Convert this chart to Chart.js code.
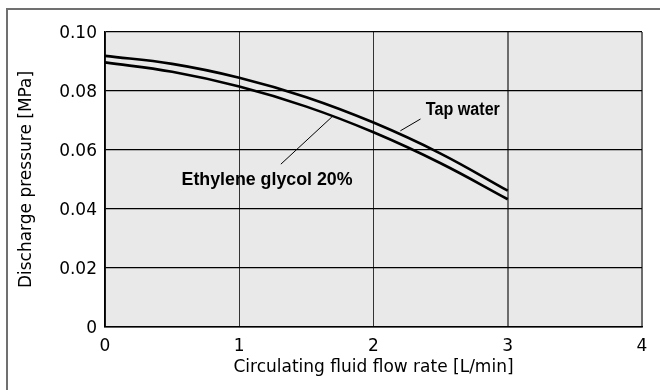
<!DOCTYPE html>
<html>
<head>
<meta charset="utf-8">
<script src="https://cdn.jsdelivr.net/npm/chart.js@4/dist/chart.umd.min.js"></script>
<style>
  html, body { margin: 0; padding: 0; background: #fff; }
  #wrap { width: 660px; height: 390px; }
</style>
</head>
<body>
<div id="wrap"><canvas id="pump"></canvas></div>
<script>
// flow rate [L/min] and discharge pressure [MPa]
const flowRates = [0, 0.5, 1, 1.5, 2, 2.5, 3];
const tapWater = [0.0919, 0.0892, 0.0845, 0.0779, 0.0693, 0.0588, 0.0462];
const glycol20 = [0.0897, 0.0865, 0.0815, 0.0747, 0.066, 0.0555, 0.0433];
const xTicks = [0, 1, 2, 3, 4];
const yTicks = [0, 0.02, 0.04, 0.06, 0.08, 0.10];

const toPoints = (ys) => flowRates.map((x, i) => ({ x, y: ys[i] }));

// grey plot fill + the partial outer frame
const framePlugin = {
  id: "frame",
  beforeDraw(chart) {
    const { ctx, chartArea: a } = chart;
    ctx.save();
    ctx.fillStyle = "#e8e9e8";
    ctx.fillRect(a.left, a.top, a.right - a.left, a.bottom - a.top);
    ctx.strokeStyle = "#707070";
    ctx.lineWidth = 2;
    ctx.beginPath();
    ctx.moveTo(7, 390);
    ctx.lineTo(7, 9);
    ctx.lineTo(660, 9);
    ctx.stroke();
    ctx.restore();
  },
};

// curve labels with their leader lines
const labelPlugin = {
  id: "curveLabels",
  afterDatasetsDraw(chart) {
    const { ctx, scales } = chart;
    const px = (x) => scales.x.getPixelForValue(x);
    const py = (y) => scales.y.getPixelForValue(y);
    ctx.save();
    ctx.strokeStyle = "#000";
    ctx.lineWidth = 1;
    ctx.beginPath();
    ctx.moveTo(px(2.35), py(0.0705));
    ctx.lineTo(px(2.2), py(0.0665));
    ctx.moveTo(px(1.31), py(0.0552));
    ctx.lineTo(px(1.69), py(0.0712));
    ctx.stroke();
    ctx.fillStyle = "#000";
    ctx.font = "bold 18px 'Liberation Sans', Arial, sans-serif";
    ctx.textBaseline = "middle";
    ctx.textAlign = "left";
    ctx.fillText("Tap water", px(2.39), py(0.0735), 74);
    ctx.fillText("Ethylene glycol 20%", px(0.57), py(0.0497), 171);
    ctx.restore();
  },
};

const tickFont = { family: "'DejaVu Sans', sans-serif", size: 17 };
const titleFont = { family: "'DejaVu Sans', sans-serif", size: 17 };

new Chart(document.getElementById("pump"), {
  type: "line",
  data: {
    datasets: [
      { label: "Tap water", data: toPoints(tapWater) },
      { label: "Ethylene glycol 20%", data: toPoints(glycol20) },
    ].map((d) => ({
      ...d,
      borderColor: "#000",
      borderWidth: 2.6,
      pointRadius: 0,
      tension: 0.4,
      fill: false,
    })),
  },
  options: {
    responsive: true,
    maintainAspectRatio: false,
    animation: false,
    layout: { padding: { left: 0, top: 32, right: 18, bottom: 0 } },
    plugins: { legend: { display: false }, tooltip: { enabled: false } },
    scales: {
      x: {
        type: "linear",
        min: 0,
        max: 4,
        afterBuildTicks: (s) => { s.ticks = xTicks.map((v) => ({ value: v })); },
        afterFit: (s) => { s.height = 63; },
        ticks: { color: "#000", font: tickFont, padding: 9 },
        grid: {
          drawTicks: false,
          color: (c) => (c.tick && c.tick.value >= 3 ? "#6c6c6c" : "#333"),
          lineWidth: (c) => (c.tick && c.tick.value >= 3 ? 2 : 1),
        },
        border: { color: "#000", width: 1.5 },
        title: {
          display: true,
          text: "Circulating fluid flow rate [L/min]",
          color: "#000",
          font: titleFont,
          padding: { top: 0, bottom: 12 },
        },
      },
      y: {
        min: 0,
        max: 0.1,
        afterBuildTicks: (s) => { s.ticks = yTicks.map((v) => ({ value: v })); },
        afterFit: (s) => { s.width = 105; },
        ticks: {
          color: "#000",
          font: tickFont,
          padding: 8,
          labelOffset: 2,
          callback: (v) => (v === 0 ? "0" : v.toFixed(2)),
        },
        grid: { drawTicks: false, color: "#000", lineWidth: 1.3 },
        border: { color: "#000", width: 1.5 },
        title: {
          display: true,
          text: "Discharge pressure [MPa]",
          color: "#000",
          font: titleFont,
          padding: { top: 16, bottom: 0 },
        },
      },
    },
  },
  plugins: [framePlugin, labelPlugin],
});
</script>
</body>
</html>
